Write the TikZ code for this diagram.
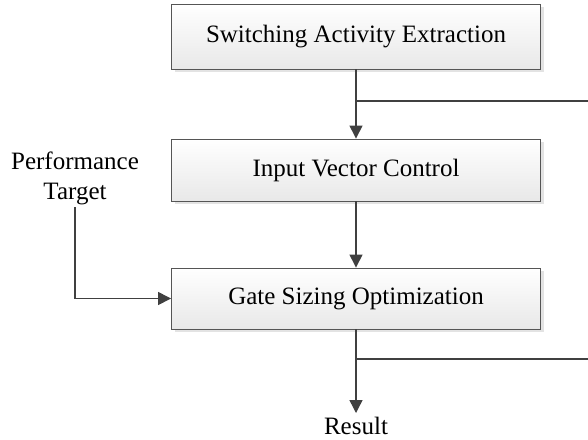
\documentclass[tikz,border=0pt]{standalone}
\usepackage{fontspec}
\setmainfont{Liberation Serif}
\usetikzlibrary{arrows.meta,shadows}
\definecolor{linec}{HTML}{404040}
\definecolor{boxc}{HTML}{555555}
\begin{document}
\begin{tikzpicture}[x=1pt,y=-1pt,
  box/.style={draw=boxc,line width=0.9pt,shade,top color=white,bottom color=black!9,
    minimum width=369pt,inner sep=0pt,
    general shadow={fill=black!11,shadow xshift=3pt,shadow yshift=-3pt},
    font=\fontsize{25}{30}\selectfont},
  lbl/.style={font=\fontsize{25}{30}\selectfont,align=center},
  conn/.style={draw=linec,line width=1.4pt,-{Triangle[length=13pt,width=13pt]}},
  plain/.style={draw=linec,line width=1.4pt}]
\useasboundingbox (0,0) rectangle (588,439);
\node[box,minimum height=65pt] (b1) at (356,36.5) {Switching Activity Extraction};
\node[box,minimum height=62pt] (b2) at (356,170) {Input Vector Control};
\node[box,minimum height=61pt] (b3) at (356,298.5) {Gate Sizing Optimization};
\node[lbl,anchor=south,inner sep=2pt] (perf) at (75,207) {Performance\\Target};
\node[lbl,inner sep=4pt] (res) at (356,426) {Result};
\coordinate (s1) at (356,101);
\coordinate (e1) at (588,101);
\coordinate (s2) at (356,359);
\coordinate (e2) at (588,359);
\draw[conn] (b1) -- (b2);
\draw[plain] (s1) -- (e1);
\draw[conn] (b2) -- (b3);
\draw[conn] (perf.south) |- (b3.west);
\draw[conn] (b3) -- (res);
\draw[plain] (s2) -- (e2);
\end{tikzpicture}
\end{document}
